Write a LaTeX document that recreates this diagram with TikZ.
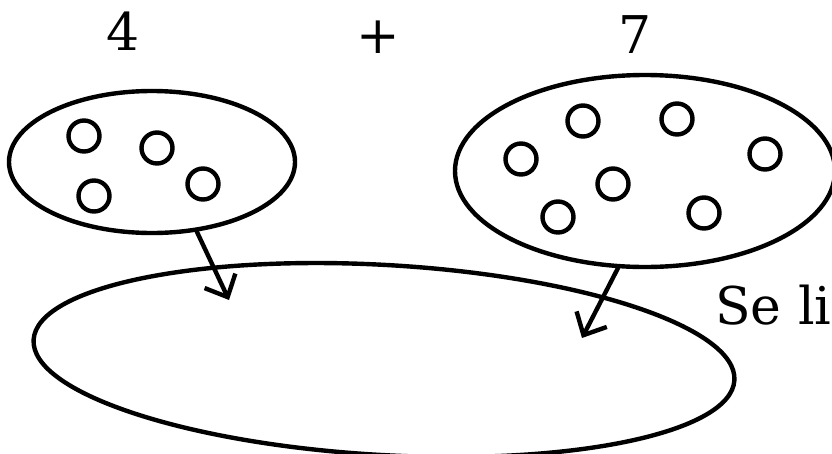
\documentclass[tikz,border=0pt]{standalone}
\usepackage{fontspec}
\setmainfont{DejaVu Serif}
\usetikzlibrary{arrows.meta,shapes.geometric}
\begin{document}
\begin{tikzpicture}[x=1pt,y=-1pt,
  stroke/.style={line width=4.4pt, line cap=round, line join=round},
  setbox/.style={stroke, draw, ellipse, inner sep=0pt},
  dot/.style={stroke, draw, circle, minimum size=31pt, inner sep=0pt},
  label/.style={font=\fontsize{52}{52}\selectfont, anchor=base, inner sep=0pt},
  hand/.style={stroke, -{Straight Barb[length=18pt,width=34pt,line width=4.4pt]}}]
\useasboundingbox[fill=white] (0,0) rectangle (832,453);
% numbers
\node[label] (four) at (123,50) {4};
\node[font=\fontsize{52}{52}\selectfont, inner sep=0pt] (plus) at (378,37) {+};
\node[label] (seven) at (635,53) {7};
\node[label, anchor=base west] (seli) at (715,324) {Se li};
% sets
\node[setbox, minimum width=286pt, minimum height=142pt] (left) at (152,162) {};
\node[setbox, minimum width=380pt, minimum height=192pt] (right) at (645,171) {};
\node[setbox, minimum width=702pt, minimum height=190pt, rotate=-3.3] (sum) at (384,360) {};
% dots of the left set
\node[dot] (l1) at (84,136) {};
\node[dot] (l2) at (157,148) {};
\node[dot] (l3) at (94,196) {};
\node[dot] (l4) at (203,184) {};
% dots of the right set
\node[dot] (r1) at (583,121) {};
\node[dot] (r2) at (677,119) {};
\node[dot] (r3) at (521,159) {};
\node[dot] (r4) at (765,154) {};
\node[dot] (r5) at (613,184) {};
\node[dot] (r6) at (558,217) {};
\node[dot] (r7) at (704,213) {};
% arrows
\coordinate (ls) at (197,232);
\coordinate (le) at (229,300);
\coordinate (rs) at (618,268);
\coordinate (re) at (582,338);
\draw[hand] (ls) -- (le);
\draw[hand] (rs) -- (re);
\end{tikzpicture}
\end{document}
